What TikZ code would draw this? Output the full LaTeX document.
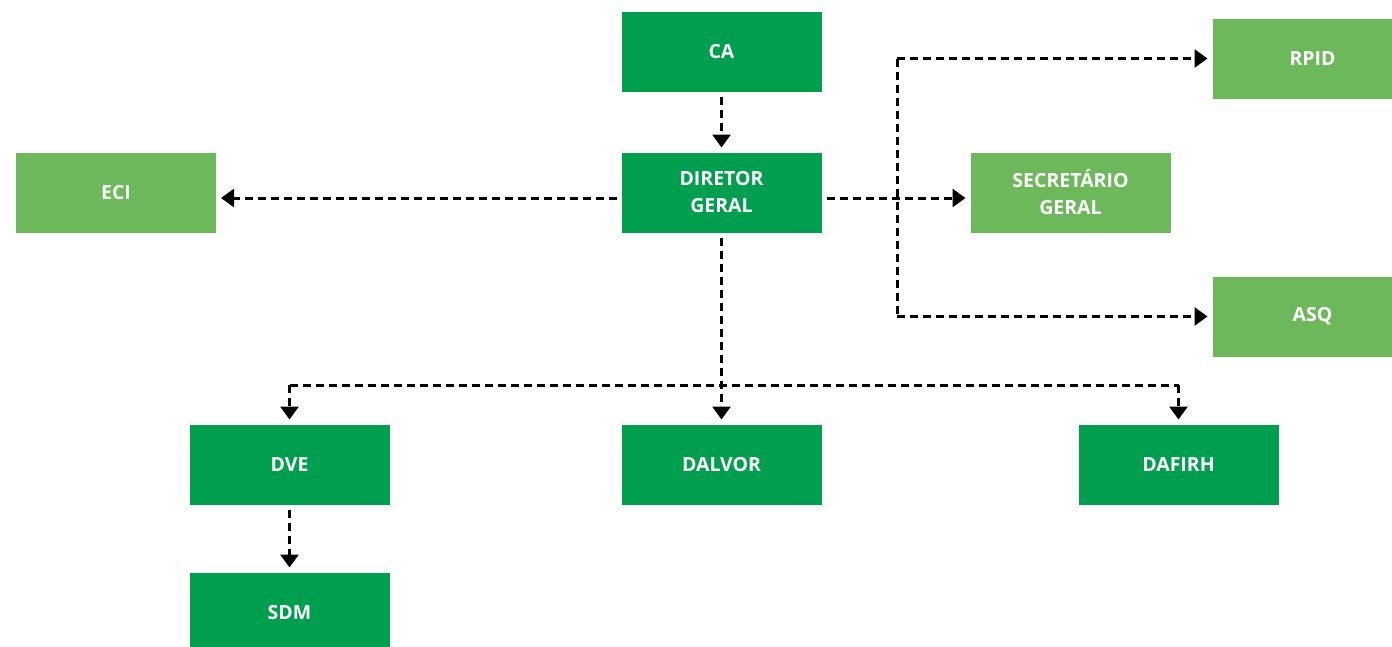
\documentclass[tikz,border=0pt]{standalone}
\usepackage{fontspec}
\setmainfont{Open Sans}
\usetikzlibrary{arrows.meta}
\definecolor{darkg}{RGB}{0,158,79}
\definecolor{lightg}{RGB}{109,184,91}
\begin{document}
\begin{tikzpicture}[x=1pt,y=-1pt,
  box/.style={rectangle,minimum width=200pt,minimum height=80pt,inner sep=0pt,outer sep=5pt,
    text=white,font=\bfseries\fontsize{19.5}{27}\selectfont,align=center},
  dbox/.style={box,fill=darkg},
  lbox/.style={box,fill=lightg},
  dl/.style={line width=3pt,dash pattern=on 8pt off 5pt,black},
  conn/.style={dl,-{Triangle[width=18pt,length=13pt]}}]
\useasboundingbox (0,0) rectangle (1392,646);
\clip (0,0) rectangle (1392,646);
\node[dbox] (ca) at (721.5,51.5) {CA};
\node[dbox] (dg) at (721.5,192.5) {DIRETOR\\GERAL};
\node[lbox] (eci) at (116,192.5) {ECI};
\node[lbox] (sg) at (1070.5,192.5) {SECRETÁRIO\\GERAL};
\node[lbox] (rpid) at (1312.5,58.5) {RPID};
\node[lbox] (asq) at (1312.5,316.5) {ASQ};
\node[dbox] (dve) at (289.5,464.5) {DVE};
\node[dbox] (dalvor) at (721.5,464.5) {DALVOR};
\node[dbox] (dafirh) at (1178.5,464.5) {DAFIRH};
\node[dbox] (sdm) at (289.5,612.5) {SDM};
\coordinate (hy) at (0,198);
\coordinate (bt) at (897,58.5);
\coordinate (bb) at (897,316.5);
\coordinate (by) at (0,385);
\coordinate (bl) at (dve.north |- by);
\coordinate (br) at (dafirh.north |- by);
\draw[conn] (ca) -- (dg);
\draw[conn] (dg.west |- hy) -- (eci.east |- hy);
\draw[conn] (dg.east |- hy) -- (sg.west |- hy);
\draw[dl] (bt) -- (bb);
\draw[conn] (bt) -- (rpid.west);
\draw[conn] (bb) -- (asq.west);
\draw[conn] (dg) -- (dalvor);
\draw[dl] (bl) -- (br);
\draw[conn] (bl) -- (dve.north);
\draw[conn] (br) -- (dafirh.north);
\draw[conn] (dve) -- (sdm);
\end{tikzpicture}
\end{document}
